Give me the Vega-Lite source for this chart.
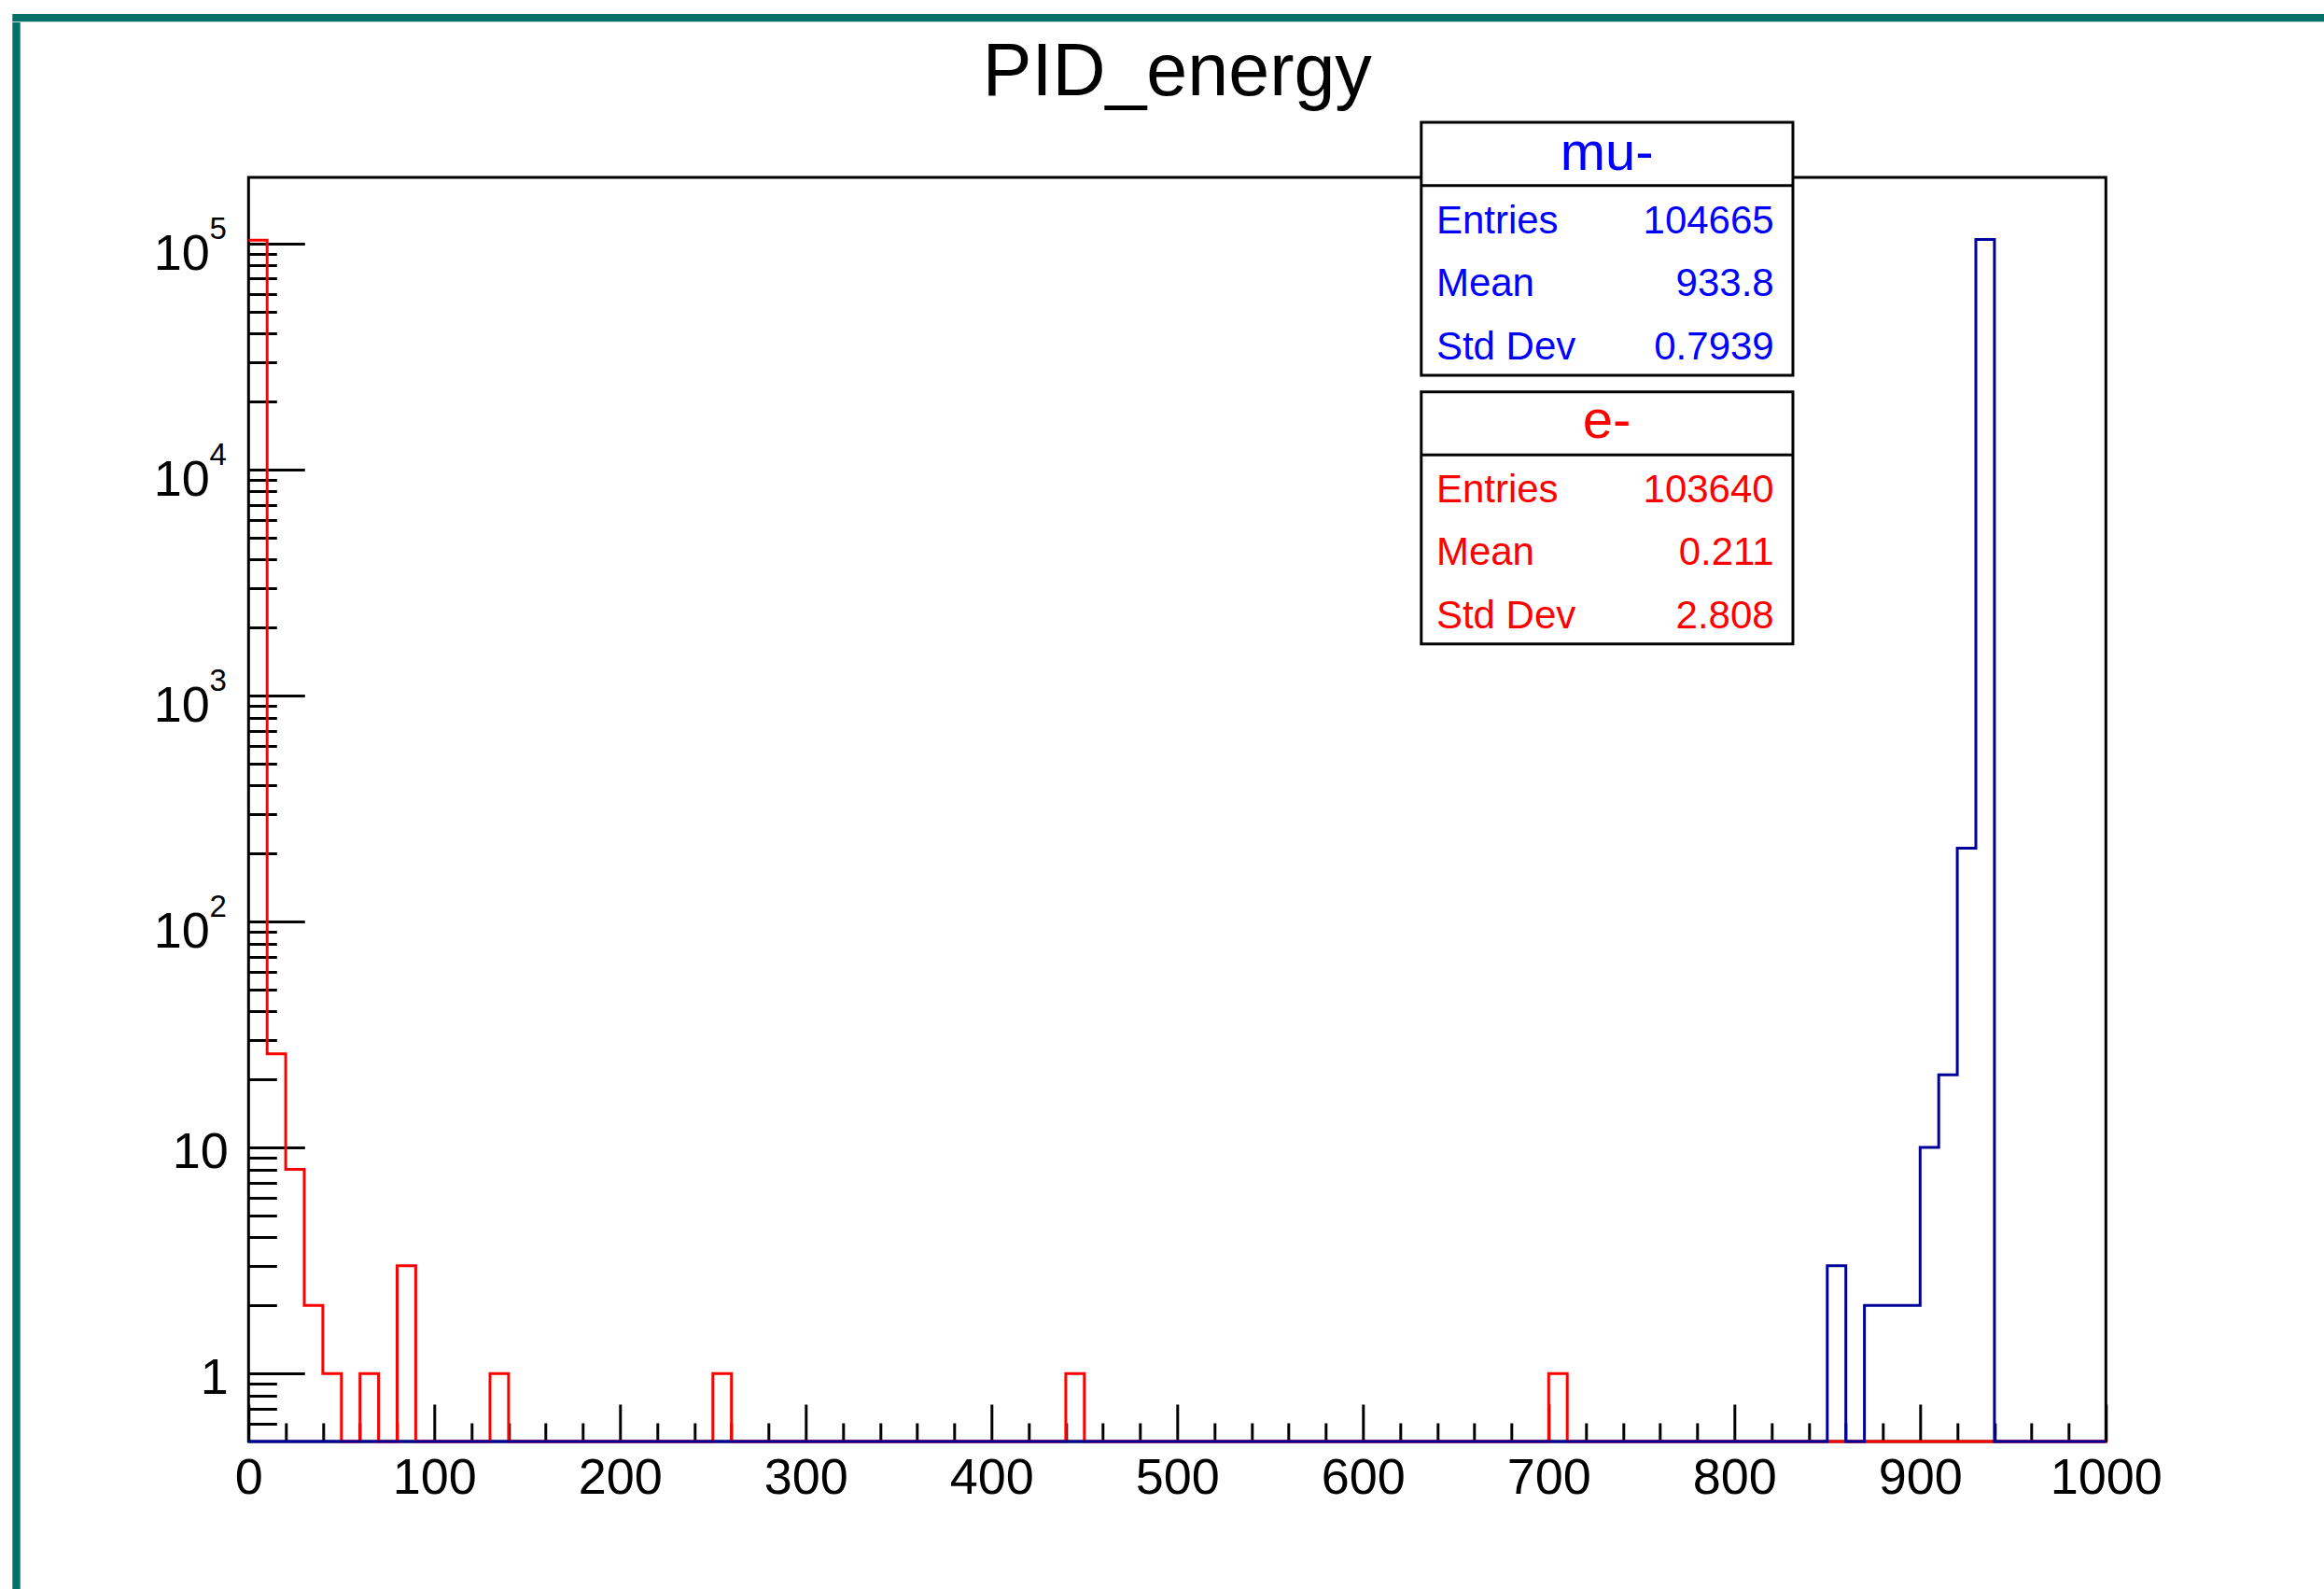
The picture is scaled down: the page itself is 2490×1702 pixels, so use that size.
{
  "$schema": "https://vega.github.io/schema/vega-lite/v6.json",
  "background": "white",
  "padding": {"left": 13.3, "top": 15, "right": 0, "bottom": 0},
  "autosize": {"type": "pad"},
  "config": {
    "view": {"stroke": null},
    "font": "Liberation Sans",
    "axis": {"labelFont": "Liberation Sans", "labelColor": "black", "tickColor": "black", "domain": false, "grid": false, "zindex": 1, "labelOverlap": false, "labelFlush": false, "labelBound": false}
  },
  "datasets": {
    "electron": [
      {"bin": 0, "n": 103595}, {"bin": 10, "n": 26}, {"bin": 20, "n": 8}, {"bin": 30, "n": 2}, {"bin": 40, "n": 1},
      {"bin": 50, "n": 0}, {"bin": 60, "n": 1}, {"bin": 70, "n": 0}, {"bin": 80, "n": 3}, {"bin": 90, "n": 0},
      {"bin": 100, "n": 0}, {"bin": 110, "n": 0}, {"bin": 120, "n": 0}, {"bin": 130, "n": 1}, {"bin": 140, "n": 0},
      {"bin": 150, "n": 0}, {"bin": 160, "n": 0}, {"bin": 170, "n": 0}, {"bin": 180, "n": 0}, {"bin": 190, "n": 0},
      {"bin": 200, "n": 0}, {"bin": 210, "n": 0}, {"bin": 220, "n": 0}, {"bin": 230, "n": 0}, {"bin": 240, "n": 0},
      {"bin": 250, "n": 1}, {"bin": 260, "n": 0}, {"bin": 270, "n": 0}, {"bin": 280, "n": 0}, {"bin": 290, "n": 0},
      {"bin": 300, "n": 0}, {"bin": 310, "n": 0}, {"bin": 320, "n": 0}, {"bin": 330, "n": 0}, {"bin": 340, "n": 0},
      {"bin": 350, "n": 0}, {"bin": 360, "n": 0}, {"bin": 370, "n": 0}, {"bin": 380, "n": 0}, {"bin": 390, "n": 0},
      {"bin": 400, "n": 0}, {"bin": 410, "n": 0}, {"bin": 420, "n": 0}, {"bin": 430, "n": 0}, {"bin": 440, "n": 1},
      {"bin": 450, "n": 0}, {"bin": 460, "n": 0}, {"bin": 470, "n": 0}, {"bin": 480, "n": 0}, {"bin": 490, "n": 0},
      {"bin": 500, "n": 0}, {"bin": 510, "n": 0}, {"bin": 520, "n": 0}, {"bin": 530, "n": 0}, {"bin": 540, "n": 0},
      {"bin": 550, "n": 0}, {"bin": 560, "n": 0}, {"bin": 570, "n": 0}, {"bin": 580, "n": 0}, {"bin": 590, "n": 0},
      {"bin": 600, "n": 0}, {"bin": 610, "n": 0}, {"bin": 620, "n": 0}, {"bin": 630, "n": 0}, {"bin": 640, "n": 0},
      {"bin": 650, "n": 0}, {"bin": 660, "n": 0}, {"bin": 670, "n": 0}, {"bin": 680, "n": 0}, {"bin": 690, "n": 0},
      {"bin": 700, "n": 1}, {"bin": 710, "n": 0}, {"bin": 720, "n": 0}, {"bin": 730, "n": 0}, {"bin": 740, "n": 0},
      {"bin": 750, "n": 0}, {"bin": 760, "n": 0}, {"bin": 770, "n": 0}, {"bin": 780, "n": 0}, {"bin": 790, "n": 0},
      {"bin": 800, "n": 0}, {"bin": 810, "n": 0}, {"bin": 820, "n": 0}, {"bin": 830, "n": 0}, {"bin": 840, "n": 0},
      {"bin": 850, "n": 0}, {"bin": 860, "n": 0}, {"bin": 870, "n": 0}, {"bin": 880, "n": 0}, {"bin": 890, "n": 0},
      {"bin": 900, "n": 0}, {"bin": 910, "n": 0}, {"bin": 920, "n": 0}, {"bin": 930, "n": 0}, {"bin": 940, "n": 0},
      {"bin": 950, "n": 0}, {"bin": 960, "n": 0}, {"bin": 970, "n": 0}, {"bin": 980, "n": 0}, {"bin": 990, "n": 0},
      {"bin": 1000, "n": 0}
    ],
    "muon": [
      {"bin": 0, "n": 0}, {"bin": 10, "n": 0}, {"bin": 20, "n": 0}, {"bin": 30, "n": 0}, {"bin": 40, "n": 0},
      {"bin": 50, "n": 0}, {"bin": 60, "n": 0}, {"bin": 70, "n": 0}, {"bin": 80, "n": 0}, {"bin": 90, "n": 0},
      {"bin": 100, "n": 0}, {"bin": 110, "n": 0}, {"bin": 120, "n": 0}, {"bin": 130, "n": 0}, {"bin": 140, "n": 0},
      {"bin": 150, "n": 0}, {"bin": 160, "n": 0}, {"bin": 170, "n": 0}, {"bin": 180, "n": 0}, {"bin": 190, "n": 0},
      {"bin": 200, "n": 0}, {"bin": 210, "n": 0}, {"bin": 220, "n": 0}, {"bin": 230, "n": 0}, {"bin": 240, "n": 0},
      {"bin": 250, "n": 0}, {"bin": 260, "n": 0}, {"bin": 270, "n": 0}, {"bin": 280, "n": 0}, {"bin": 290, "n": 0},
      {"bin": 300, "n": 0}, {"bin": 310, "n": 0}, {"bin": 320, "n": 0}, {"bin": 330, "n": 0}, {"bin": 340, "n": 0},
      {"bin": 350, "n": 0}, {"bin": 360, "n": 0}, {"bin": 370, "n": 0}, {"bin": 380, "n": 0}, {"bin": 390, "n": 0},
      {"bin": 400, "n": 0}, {"bin": 410, "n": 0}, {"bin": 420, "n": 0}, {"bin": 430, "n": 0}, {"bin": 440, "n": 0},
      {"bin": 450, "n": 0}, {"bin": 460, "n": 0}, {"bin": 470, "n": 0}, {"bin": 480, "n": 0}, {"bin": 490, "n": 0},
      {"bin": 500, "n": 0}, {"bin": 510, "n": 0}, {"bin": 520, "n": 0}, {"bin": 530, "n": 0}, {"bin": 540, "n": 0},
      {"bin": 550, "n": 0}, {"bin": 560, "n": 0}, {"bin": 570, "n": 0}, {"bin": 580, "n": 0}, {"bin": 590, "n": 0},
      {"bin": 600, "n": 0}, {"bin": 610, "n": 0}, {"bin": 620, "n": 0}, {"bin": 630, "n": 0}, {"bin": 640, "n": 0},
      {"bin": 650, "n": 0}, {"bin": 660, "n": 0}, {"bin": 670, "n": 0}, {"bin": 680, "n": 0}, {"bin": 690, "n": 0},
      {"bin": 700, "n": 0}, {"bin": 710, "n": 0}, {"bin": 720, "n": 0}, {"bin": 730, "n": 0}, {"bin": 740, "n": 0},
      {"bin": 750, "n": 0}, {"bin": 760, "n": 0}, {"bin": 770, "n": 0}, {"bin": 780, "n": 0}, {"bin": 790, "n": 0},
      {"bin": 800, "n": 0}, {"bin": 810, "n": 0}, {"bin": 820, "n": 0}, {"bin": 830, "n": 0}, {"bin": 840, "n": 0},
      {"bin": 850, "n": 3}, {"bin": 860, "n": 0}, {"bin": 870, "n": 2}, {"bin": 880, "n": 2}, {"bin": 890, "n": 2},
      {"bin": 900, "n": 10}, {"bin": 910, "n": 21}, {"bin": 920, "n": 211}, {"bin": 930, "n": 104414}, {"bin": 940, "n": 0},
      {"bin": 950, "n": 0}, {"bin": 960, "n": 0}, {"bin": 970, "n": 0}, {"bin": 980, "n": 0}, {"bin": 990, "n": 0},
      {"bin": 1000, "n": 0}
    ],
    "decades": [
      {"decade": 100, "exp": "2"}, {"decade": 1000, "exp": "3"}, {"decade": 10000, "exp": "4"}, {"decade": 100000, "exp": "5"}
    ],
    "stats": [
      {"box": "mu-", "line": "head", "label": "mu-", "value": ""},
      {"box": "mu-", "line": "Entries", "label": "Entries", "value": "104665"},
      {"box": "mu-", "line": "Mean", "label": "Mean", "value": "933.8"},
      {"box": "mu-", "line": "Std Dev", "label": "Std Dev", "value": "0.7939"},
      {"box": "e-", "line": "head", "label": "e-", "value": ""},
      {"box": "e-", "line": "Entries", "label": "Entries", "value": "103640"},
      {"box": "e-", "line": "Mean", "label": "Mean", "value": "0.211"},
      {"box": "e-", "line": "Std Dev", "label": "Std Dev", "value": "2.808"}
    ]
  },
  "spacing": 0,
  "bounds": "flush",
  "vconcat": [
    {"width": 2476.7, "height": 8.3, "data": {"values": []}, "mark": "rect", "view": {"fill": "#02716a", "stroke": null}},
    {
      "spacing": 244,
      "bounds": "flush",
      "hconcat": [
        {"width": 8.4, "height": 1678.7, "data": {"values": []}, "mark": "rect", "view": {"fill": "#02716a", "stroke": null}},
        {
          "spacing": 165,
          "bounds": "flush",
          "vconcat": [
            {"width": 1990, "height": 1, "data": {"values": []}, "mark": "rect", "view": {"stroke": null}},
            {
              "width": 1990,
              "height": 1354,
              "view": {"stroke": "black", "strokeWidth": 3, "fill": "white"},
              "title": {"text": "PID_energy", "fontSize": 79, "font": "Liberation Sans", "fontWeight": "normal", "color": "black", "anchor": "middle", "frame": "group", "baseline": "alphabetic", "offset": -51.7},
              "resolve": {"scale": {"y": "independent"}, "axis": {"x": "independent", "y": "independent"}},
              "layer": [
                {
                  "resolve": {"axis": {"x": "independent", "y": "independent"}},
                  "layer": [
                    {
                      "data": {"name": "electron"},
                      "mark": {"type": "line", "interpolate": "step-after", "color": "#ff0000", "strokeWidth": 3},
                      "encoding": {
                        "x": {"field": "bin", "type": "quantitative", "scale": {"domain": [0, 1000], "nice": false, "zero": false},
                          "axis": {"orient": "bottom", "title": null, "values": [0, 100, 200, 300, 400, 500, 600, 700, 800, 900, 1000], "format": "d", "tickSize": -40, "tickWidth": 3, "labelFontSize": 54, "labelPadding": 52.7, "labelBaseline": "top", "labelAlign": "center"}},
                        "y": {"field": "n", "type": "quantitative", "scale": {"type": "log", "domain": [0.5, 196500], "clamp": true, "nice": false},
                          "axis": {"orient": "left", "title": null, "values": [1, 10, 100, 1000, 10000, 100000], "labelExpr": "datum.value < 50 ? datum.value + '' : ''", "tickSize": -60, "tickWidth": 3, "labelFontSize": 54, "labelPadding": 82, "labelOffset": 5, "labelAlign": "right", "labelBaseline": "middle"}}
                      }
                    },
                    {
                      "data": {"name": "muon"},
                      "mark": {"type": "line", "interpolate": "step-after", "color": "#000099", "strokeWidth": 3},
                      "encoding": {
                        "x": {"field": "bin", "type": "quantitative", "scale": {"domain": [0, 1000], "nice": false, "zero": false},
                          "axis": {"orient": "bottom", "title": null, "labels": false, "tickSize": -20, "tickWidth": 3,
                            "values": [20, 40, 60, 80, 120, 140, 160, 180, 220, 240, 260, 280, 320, 340, 360, 380, 420, 440, 460, 480, 520, 540, 560, 580, 620, 640, 660, 680, 720, 740, 760, 780, 820, 840, 860, 880, 920, 940, 960, 980]}},
                        "y": {"field": "n", "type": "quantitative", "scale": {"type": "log", "domain": [0.5, 196500], "clamp": true, "nice": false},
                          "axis": {"orient": "left", "title": null, "labels": false, "tickSize": -30, "tickWidth": 3,
                            "values": [0.6, 0.7, 0.8, 0.9, 2, 3, 4, 5, 6, 7, 8, 9, 20, 30, 40, 50, 60, 70, 80, 90, 200, 300, 400, 500, 600, 700, 800, 900, 2000, 3000, 4000, 5000, 6000, 7000, 8000, 9000, 20000, 30000, 40000, 50000, 60000, 70000, 80000, 90000]}}
                      }
                    },
                    {
                      "data": {"name": "decades"},
                      "mark": {"type": "text", "align": "left", "baseline": "alphabetic", "dx": -41.7, "dy": -5.3, "fontSize": 33, "font": "Liberation Sans", "color": "black"},
                      "encoding": {
                        "x": {"datum": 0, "type": "quantitative", "scale": {"domain": [0, 1000], "nice": false, "zero": false}, "axis": null},
                        "y": {"field": "decade", "type": "quantitative", "scale": {"type": "log", "domain": [0.5, 196500], "clamp": true, "nice": false},
                          "axis": {"orient": "left", "title": null, "values": [100, 1000, 10000, 100000], "labelExpr": "'10'", "ticks": false, "tickSize": 0, "labelFontSize": 54, "labelPadding": 42, "labelOffset": 11, "labelAlign": "right", "labelBaseline": "middle"}},
                        "text": {"field": "exp"}
                      }
                    }
                  ]
                },
                {
                  "data": {"name": "stats"},
                  "transform": [{"filter": "datum.box === 'mu-'"}],
                  "encoding": {
                    "y": {"field": "line", "type": "ordinal", "scale": {"type": "point", "domain": ["head", "Entries", "Mean", "Std Dev", "end"], "range": [-58.9, 211.9], "padding": 0}, "axis": null}
                  },
                  "layer": [
                    {
                      "transform": [{"filter": "datum.line === 'head'"}],
                      "mark": {"type": "rect", "fill": "white", "stroke": "black", "strokeWidth": 3},
                      "encoding": {"x": {"datum": 631.4, "type": "quantitative", "axis": null}, "x2": {"datum": 831.5}, "y": {"datum": "head", "type": "ordinal", "axis": null}, "y2": {"datum": "end"}}
                    },
                    {
                      "transform": [{"filter": "datum.line === 'head'"}],
                      "mark": {"type": "rule", "stroke": "black", "strokeWidth": 3},
                      "encoding": {"x": {"datum": 631.4, "type": "quantitative", "axis": null}, "x2": {"datum": 831.5}, "y": {"datum": "Entries", "type": "ordinal", "axis": null}}
                    },
                    {
                      "transform": [{"filter": "datum.line === 'head'"}],
                      "mark": {"type": "text", "align": "center", "baseline": "alphabetic", "dy": 50.6, "fontSize": 58, "color": "#0000ff"},
                      "encoding": {"x": {"datum": 731.3, "type": "quantitative", "axis": null}, "text": {"field": "label"}}
                    },
                    {
                      "transform": [{"filter": "datum.line !== 'head'"}],
                      "mark": {"type": "text", "align": "left", "baseline": "alphabetic", "dy": 50.7, "fontSize": 42, "color": "#0000ff"},
                      "encoding": {"x": {"datum": 639.5, "type": "quantitative", "axis": null}, "text": {"field": "label"}}
                    },
                    {
                      "transform": [{"filter": "datum.line !== 'head'"}],
                      "mark": {"type": "text", "align": "right", "baseline": "alphabetic", "dy": 50.7, "fontSize": 42, "color": "#0000ff"},
                      "encoding": {"x": {"datum": 821.3, "type": "quantitative", "axis": null}, "text": {"field": "value"}}
                    }
                  ]
                },
                {
                  "data": {"name": "stats"},
                  "transform": [{"filter": "datum.box === 'e-'"}],
                  "encoding": {
                    "y": {"field": "line", "type": "ordinal", "scale": {"type": "point", "domain": ["head", "Entries", "Mean", "Std Dev", "end"], "range": [229.7, 499.7], "padding": 0}, "axis": null}
                  },
                  "layer": [
                    {
                      "transform": [{"filter": "datum.line === 'head'"}],
                      "mark": {"type": "rect", "fill": "white", "stroke": "black", "strokeWidth": 3},
                      "encoding": {"x": {"datum": 631.4, "type": "quantitative", "axis": null}, "x2": {"datum": 831.5}, "y": {"datum": "head", "type": "ordinal", "axis": null}, "y2": {"datum": "end"}}
                    },
                    {
                      "transform": [{"filter": "datum.line === 'head'"}],
                      "mark": {"type": "rule", "stroke": "black", "strokeWidth": 3},
                      "encoding": {"x": {"datum": 631.4, "type": "quantitative", "axis": null}, "x2": {"datum": 831.5}, "y": {"datum": "Entries", "type": "ordinal", "axis": null}}
                    },
                    {
                      "transform": [{"filter": "datum.line === 'head'"}],
                      "mark": {"type": "text", "align": "center", "baseline": "alphabetic", "dy": 48.8, "fontSize": 58, "color": "#ff0000"},
                      "encoding": {"x": {"datum": 731.3, "type": "quantitative", "axis": null}, "text": {"field": "label"}}
                    },
                    {
                      "transform": [{"filter": "datum.line !== 'head'"}],
                      "mark": {"type": "text", "align": "left", "baseline": "alphabetic", "dy": 50.3, "fontSize": 42, "color": "#ff0000"},
                      "encoding": {"x": {"datum": 639.5, "type": "quantitative", "axis": null}, "text": {"field": "label"}}
                    },
                    {
                      "transform": [{"filter": "datum.line !== 'head'"}],
                      "mark": {"type": "text", "align": "right", "baseline": "alphabetic", "dy": 50.3, "fontSize": 42, "color": "#ff0000"},
                      "encoding": {"x": {"datum": 821.3, "type": "quantitative", "axis": null}, "text": {"field": "value"}}
                    }
                  ]
                }
              ]
            }
          ]
        }
      ]
    }
  ]
}
